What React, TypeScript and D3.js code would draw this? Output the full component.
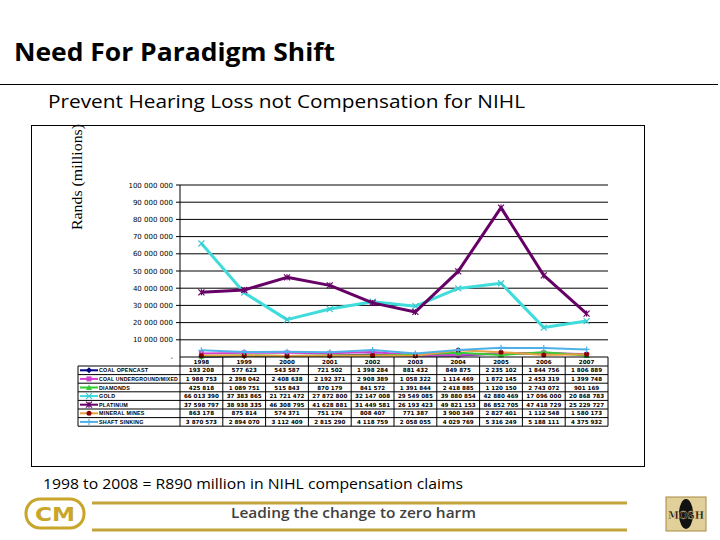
import * as d3 from 'd3';
import { useEffect } from 'react';

const years = ['1998', '1999', '2000', '2001', '2002', '2003', '2004', '2005', '2006', '2007'];

const coalOpencast = [193208, 577623, 543587, 721502, 1398284, 881432, 849875, 2235102, 1844756, 1806889];
const coalUnderground = [1988753, 2398042, 2408638, 2192371, 2908389, 1058322, 1114469, 1872145, 2453319, 1399748];
const diamonds = [425818, 1089751, 515843, 870179, 841572, 1391844, 2418885, 1120150, 2743072, 901169];
const gold = [66013390, 37383865, 21721472, 27872800, 32147008, 29549085, 39880854, 42880469, 17096000, 20868783];
const platinum = [37598797, 38938335, 46308795, 41628881, 31449581, 26193423, 49821153, 86852705, 47418729, 25229727];
const mineralMines = [863178, 875814, 574371, 751174, 808407, 771387, 3900349, 2827401, 1112548, 1580173];
const shaftSinking = [3870573, 2894070, 3112409, 2815290, 4118759, 2058055, 4029769, 5316249, 5188111, 4375932];

const yTicks = [0, 10e6, 20e6, 30e6, 40e6, 50e6, 60e6, 70e6, 80e6, 90e6, 100e6];

type Marker = 'diamond' | 'square' | 'triangle' | 'x' | 'star' | 'circle' | 'plus';

const series: Array<{ name: string; values: number[]; line: string; mark: string; marker: Marker; width: number }> = [
  { name: 'COAL OPENCAST', values: coalOpencast, line: '#000080', mark: '#000080', marker: 'diamond', width: 2 },
  { name: 'COAL UNDERGROUND/MIXED', values: coalUnderground, line: '#d040d0', mark: '#d040d0', marker: 'square', width: 2 },
  { name: 'DIAMONDS', values: diamonds, line: '#33cc33', mark: '#33cc33', marker: 'triangle', width: 2 },
  { name: 'GOLD', values: gold, line: '#40dcdc', mark: '#3cc8d0', marker: 'x', width: 3 },
  { name: 'PLATINUM', values: platinum, line: '#660066', mark: '#660066', marker: 'star', width: 3 },
  { name: 'MINERAL MINES', values: mineralMines, line: '#e8a040', mark: '#8b0000', marker: 'circle', width: 2 },
  { name: 'SHAFT SINKING', values: shaftSinking, line: '#4fb0e8', mark: '#4fb0e8', marker: 'plus', width: 2 },
];

const plot = { left: 180, right: 608, top: 185, bottom: 357 };
const rowH = 8.6;
const legendLeft = 78;

const fmt = (v: number) => (v === 0 ? '-' : d3.format(',')(v).replace(/,/g, ' '));

function MarkerShape({ type, x, y, color }: { type: Marker; x: number; y: number; color: string }) {
  const s = 3;
  switch (type) {
    case 'diamond':
      return <path d={`M${x},${y - s}L${x + s},${y}L${x},${y + s}L${x - s},${y}Z`} fill={color} />;
    case 'square':
      return <rect x={x - s + 0.5} y={y - s + 0.5} width={2 * s - 1} height={2 * s - 1} fill={color} />;
    case 'triangle':
      return <path d={`M${x},${y - s}L${x + s},${y + s - 0.5}L${x - s},${y + s - 0.5}Z`} fill={color} />;
    case 'circle':
      return <circle cx={x} cy={y} r={s - 0.5} fill={color} />;
    case 'x':
      return (
        <path d={`M${x - s},${y - s}L${x + s},${y + s}M${x - s},${y + s}L${x + s},${y - s}`} stroke={color} strokeWidth={1.2} />
      );
    case 'plus':
      return <path d={`M${x - s},${y}L${x + s},${y}M${x},${y - s}L${x},${y + s}`} stroke={color} strokeWidth={1.2} />;
    case 'star':
      return (
        <path
          d={`M${x - s},${y - s}L${x + s},${y + s}M${x - s},${y + s}L${x + s},${y - s}M${x},${y - s}L${x},${y + s}`}
          stroke={color}
          strokeWidth={1.2}
        />
      );
  }
}

export default function App() {
  useEffect(() => {
    document.body.style.margin = '0';
  }, []);

  const x = d3.scaleBand<string>().domain(years).range([plot.left, plot.right]);
  const y = d3.scaleLinear().domain([0, 100e6]).range([plot.bottom, plot.top]);
  const cx = (yr: string) => (x(yr) ?? 0) + x.bandwidth() / 2;
  const line = d3
    .line<number>()
    .x((_, i) => cx(years[i]))
    .y((v) => y(v));

  const tableTop = plot.bottom;
  const headerBottom = tableTop + 9;
  const tableBottom = headerBottom + rowH * series.length;

  return (
    <svg width={720} height={540} style={{ display: 'block', background: '#fff' }}>
      <text x={14} y={61} fontFamily="'Open Sans', sans-serif" fontWeight={700} fontSize={25} textLength={321} lengthAdjust="spacingAndGlyphs" fill="#000">
        Need For Paradigm Shift
      </text>
      <line x1={0} x2={718} y1={84.5} y2={84.5} stroke="#000" strokeWidth={1} />
      <text x={48} y={108} fontFamily="'Open Sans', sans-serif" fontSize={19} textLength={477} lengthAdjust="spacingAndGlyphs" fill="#000">
        Prevent Hearing Loss not Compensation for NIHL
      </text>

      {/* chart frame */}
      <rect x={31.5} y={125.5} width={613} height={341} fill="#fff" stroke="#000" strokeWidth={1} />

      <text
        transform="translate(82,177) rotate(-90)"
        textAnchor="middle"
        fontFamily="'Liberation Serif', 'Times New Roman', serif"
        fontSize={14}
        textLength={106}
        lengthAdjust="spacingAndGlyphs"
        fill="#000"
      >
        Rands (millions)
      </text>

      {/* gridlines and y axis */}
      {yTicks.map((t) => (
        <g key={t}>
          {t > 0 && <line x1={plot.left - 4} x2={plot.right} y1={y(t)} y2={y(t)} stroke="#000" strokeWidth={1} />}
          <text
            x={plot.left - 7}
            y={y(t) + 2.5}
            textAnchor="end"
            fontFamily="'DejaVu Sans', sans-serif"
            fontSize={7}
            fill="#000"
          >
            {fmt(t)}
          </text>
        </g>
      ))}
      <line x1={plot.left} x2={plot.left} y1={plot.top} y2={plot.bottom} stroke="#000" strokeWidth={1} />

      {/* series */}
      {series.map((s) => (
        <g key={s.name}>
          <path d={line(s.values) ?? ''} fill="none" stroke={s.line} strokeWidth={s.width} strokeLinejoin="round" />
          {s.values.map((v, i) => (
            <MarkerShape key={i} type={s.marker} x={cx(years[i])} y={y(v)} color={s.mark} />
          ))}
        </g>
      ))}

      {/* data table */}
      <g fontFamily="'DejaVu Sans', sans-serif" fontSize={5.6} fontWeight={700} fill="#000">
        <line x1={plot.left} x2={plot.right} y1={tableTop} y2={tableTop} stroke="#000" />
        <line x1={legendLeft} x2={plot.right} y1={headerBottom} y2={headerBottom} stroke="#000" />
        {series.map((s, r) => (
          <line
            key={s.name}
            x1={legendLeft}
            x2={plot.right}
            y1={headerBottom + rowH * (r + 1)}
            y2={headerBottom + rowH * (r + 1)}
            stroke="#000"
          />
        ))}
        <line x1={legendLeft} x2={legendLeft} y1={headerBottom} y2={tableBottom} stroke="#000" />
        {years.map((yr) => (
          <line key={yr} x1={x(yr)} x2={x(yr)} y1={tableTop} y2={tableBottom} stroke="#000" />
        ))}
        <line x1={plot.right} x2={plot.right} y1={tableTop} y2={tableBottom} stroke="#000" />
        {years.map((yr) => (
          <text key={yr} x={cx(yr)} y={tableTop + 7} textAnchor="middle">
            {yr}
          </text>
        ))}
        {series.map((s, r) => {
          const ry = headerBottom + rowH * r + rowH / 2;
          return (
            <g key={s.name}>
              <line x1={legendLeft + 2} x2={legendLeft + 20} y1={ry} y2={ry} stroke={s.line} strokeWidth={2} />
              <MarkerShape type={s.marker} x={legendLeft + 11} y={ry} color={s.mark} />
              <text
                x={legendLeft + 21}
                y={ry + 2}
                fontFamily="'Liberation Sans', Arial, sans-serif"
                fontSize={5.4}
                letterSpacing={0.2}
                textLength={s.name.length > 16 ? 79 : undefined}
                lengthAdjust="spacingAndGlyphs"
              >
                {s.name}
              </text>
              {s.values.map((v, i) => (
                <text key={i} x={cx(years[i])} y={ry + 2} textAnchor="middle">
                  {fmt(v)}
                </text>
              ))}
            </g>
          );
        })}
      </g>

      {/* footer */}
      <text x={43} y={489} fontFamily="'Open Sans', sans-serif" fontSize={14.5} textLength={420} lengthAdjust="spacingAndGlyphs" fill="#000">
        1998 to 2008 = R890 million in NIHL compensation claims
      </text>
      <line x1={92} x2={627} y1={503} y2={503} stroke="#c3a43c" strokeWidth={3} />
      <line x1={92} x2={627} y1={530} y2={530} stroke="#c3a43c" strokeWidth={3} />
      <text x={231} y={518} fontFamily="'Open Sans', sans-serif" fontSize={14} fontWeight={600} textLength={245} lengthAdjust="spacingAndGlyphs" fill="#404040">
        Leading the change to zero harm
      </text>

      {/* CM logo */}
      <rect x={26} y={499} width={58} height={29} rx={14} fill="#fff" stroke="#c9a52a" strokeWidth={3} />
      <text x={55} y={521} textAnchor="middle" fontFamily="'DejaVu Sans', sans-serif" fontWeight={700} fontSize={20} fill="#c9a52a" textLength={40} lengthAdjust="spacingAndGlyphs">
        CM
      </text>

      {/* MOSH logo */}
      <rect x={666} y={497} width={40} height={34} fill="#e2d09a" stroke="#a68a45" strokeWidth={1} />
      <ellipse cx={686} cy={514} rx={7} ry={15} fill="#111" />
      <text x={686} y={519} textAnchor="middle" fontFamily="'DejaVu Serif', serif" fontWeight={700} fontSize={11} fill="#111" stroke="#e2d09a" strokeWidth={0.4} textLength={36} lengthAdjust="spacingAndGlyphs">
        MOSH
      </text>
    </svg>
  );
}
